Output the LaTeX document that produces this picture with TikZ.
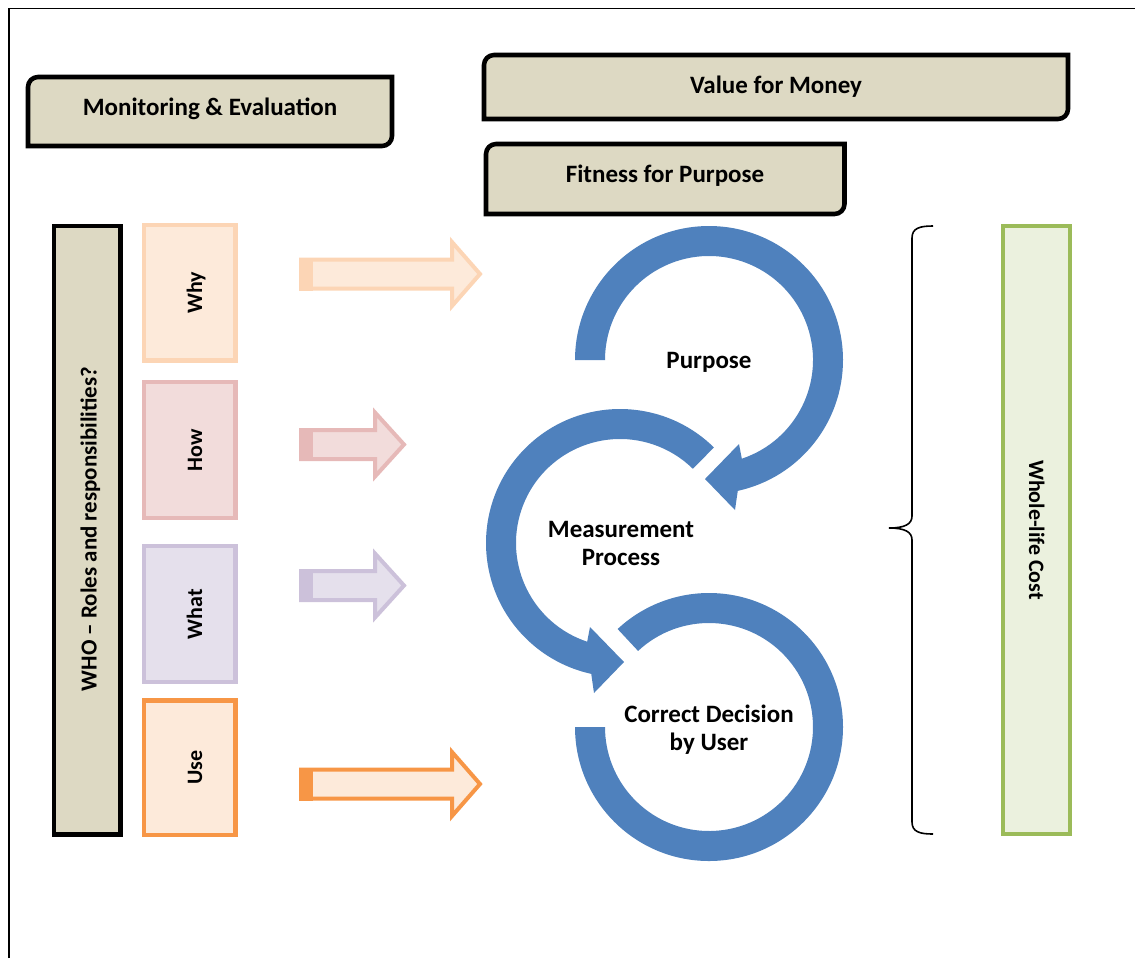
\documentclass[tikz,border=0pt]{standalone}
\usepackage{fontspec}
\setmainfont{Carlito}
\usetikzlibrary{fit}

\definecolor{khaki}{HTML}{DDD9C3}
\definecolor{peachfill}{HTML}{FDEADA}
\definecolor{peachline}{HTML}{FCD5B5}
\definecolor{rosefill}{HTML}{F2DCDB}
\definecolor{roseline}{HTML}{E6B9B8}
\definecolor{lilacfill}{HTML}{E5E0EC}
\definecolor{lilacline}{HTML}{CCC1DA}
\definecolor{orangeline}{HTML}{F79646}
\definecolor{greenfill}{HTML}{EBF1DE}
\definecolor{greenline}{HTML}{9BBB59}
\definecolor{cycleblue}{HTML}{4F81BD}

% header box with rounded top-left and bottom-right corners
% #1 name, #2 x1, #3 y1, #4 x2, #5 y2 (y grows downwards)
\newcommand\headbox[5]{%
  \draw[headframe] ({#2},{#3+10}) arc[start angle=180,end angle=270,radius=10]
    -- ({#4},{#3}) -- ({#4},{#5-10}) arc[start angle=0,end angle=90,radius=10]
    -- ({#2},{#5}) -- cycle;
  \coordinate (#1) at ({(#2+#4)/2},{(#3+#5)/2});}

% block arrow with a solid stripe at its tail
% #1 name, #2 fill, #3 outline, #4 tail x, #5 centre y, #6 base x of head, #7 tip x
\newcommand\blockarrow[7]{%
  \draw[line width=3pt, line join=miter, draw=#3, fill=#2]
    ({#4},{#5-14.5}) -- ({#6},{#5-14.5}) -- ({#6},{#5-32}) -- ({#7},{#5})
    -- ({#6},{#5+32}) -- ({#6},{#5+14.5}) -- ({#4},{#5+14.5}) -- cycle;
  \fill[#3] ({#4-2},{#5-16.5}) rectangle ({#4+12},{#5+16.5});
  \coordinate (#1) at ({#7},{#5});}

\tikzset{
  headframe/.style={draw=black, line width=3.4pt, fill=khaki},
  blackbox/.style={draw=black, line width=3.4pt, fill=khaki, inner sep=0pt, outer sep=0pt},
  pastelbox/.style={line width=3.2pt, inner sep=0pt, outer sep=0pt},
  bigtext/.style={font=\fontsize{18.75}{20.8}\selectfont\bfseries, inner sep=0pt, anchor=base, align=center},
  sidetext/.style={font=\fontsize{16.5}{19}\selectfont\bfseries, inner sep=0pt, anchor=base},
}

\begin{document}
\begin{tikzpicture}[x=0.75pt,y=-0.75pt]
\useasboundingbox (0,0) rectangle (1135,958);

% page frame
\draw[line width=1.1pt] (9,958) -- (9,8.5) -- (1135,8.5);

% header boxes
\headbox{mebox}{28}{77}{392}{146}
\headbox{vfmbox}{484}{55}{1068}{119}
\headbox{ffpbox}{486}{144}{844.5}{214}
\node[bigtext] (metext) at (210,115) {Monitoring \& Evaluation};
\node[bigtext] (vfmtext) at (776,93) {Value for Money};
\node[bigtext] (ffptext) at (665,182.5) {Fitness for Purpose};

% roles column
\node[blackbox, fit={(54,226) (120.5,834.5)}] (who) {};
\node[sidetext, rotate=90, font=\fontsize{17.2}{19}\selectfont\bfseries] (whotext) at (96.5,529) {WHO – Roles and responsibilities?};

\node[pastelbox, draw=peachline, fill=peachfill, fit={(144,225) (235.5,360.5)}] (why) {};
\node[pastelbox, draw=roseline, fill=rosefill, fit={(144,382) (235.5,518)}] (how) {};
\node[pastelbox, draw=lilacline, fill=lilacfill, fit={(144,546) (235.5,682)}] (what) {};
\node[pastelbox, draw=orangeline, fill=peachfill, fit={(144,700.5) (235.5,835)}] (use) {};
\node[sidetext, rotate=90] (whytext) at (202,292.75) {Why};
\node[sidetext, rotate=90] (howtext) at (202,450) {How};
\node[sidetext, rotate=90] (whattext) at (202,614) {What};
\node[sidetext, rotate=90] (usetext) at (202,767.75) {Use};

% block arrows
\blockarrow{whyarrow}{peachfill}{peachline}{301}{274}{452}{480}
\blockarrow{howarrow}{rosefill}{roseline}{301}{444.5}{375}{404}
\blockarrow{whatarrow}{lilacfill}{lilacline}{301}{585.5}{375}{404}
\blockarrow{usearrow}{peachfill}{orangeline}{301}{784}{452}{480}

% circular arrows
\fill[cycleblue] (575,360) arc[start angle=180, end angle=437.6, radius=134]
  -- (735,510) -- (705,479) -- (739,444)
  -- ({709+104*cos(71.6)},{360+104*sin(71.6)})
  arc[start angle=431.6, end angle=180, radius=104] -- cycle;
\fill[cycleblue] ({620+134*cos(-45.5)},{543+134*sin(-45.5)})
  arc[start angle=-45.5, end angle=-257.6, radius=134]
  -- (594,693) -- (624,662) -- (590,627)
  -- ({620+104*cos(-251.6)},{543+104*sin(-251.6)})
  arc[start angle=-251.6, end angle=-45.5, radius=104] -- cycle;
\fill[cycleblue] (575,727) arc[start angle=180, end angle=-133, radius=134]
  -- ({709+104*cos(-133)},{727+104*sin(-133)})
  arc[start angle=-133, end angle=180, radius=104] -- cycle;

% the base anchor of a two-line label sits on its last line
\node[bigtext] (purpose) at (709,368) {Purpose};
\node[bigtext] (measure) at (621,565.5) {Measurement\\Process};
\node[bigtext] (decision) at (709,750.5) {Correct Decision\\by User};

% brace and cost bar
\draw[line width=1.2pt] (933,226) .. controls (920,226) and (912,228) .. (912,238)
  -- (912,516) .. controls (912,524) and (905,528) .. (889,528)
  .. controls (905,528) and (912,532) .. (912,540)
  -- (912,822) .. controls (912,832) and (920,834) .. (933,834);
\node[pastelbox, draw=greenline, fill=greenfill, fit={(1003,226) (1070,834)}] (cost) {};
\node[sidetext, rotate=-90] (costtext) at (1029,530) {Whole-life Cost};
\end{tikzpicture}
\end{document}
